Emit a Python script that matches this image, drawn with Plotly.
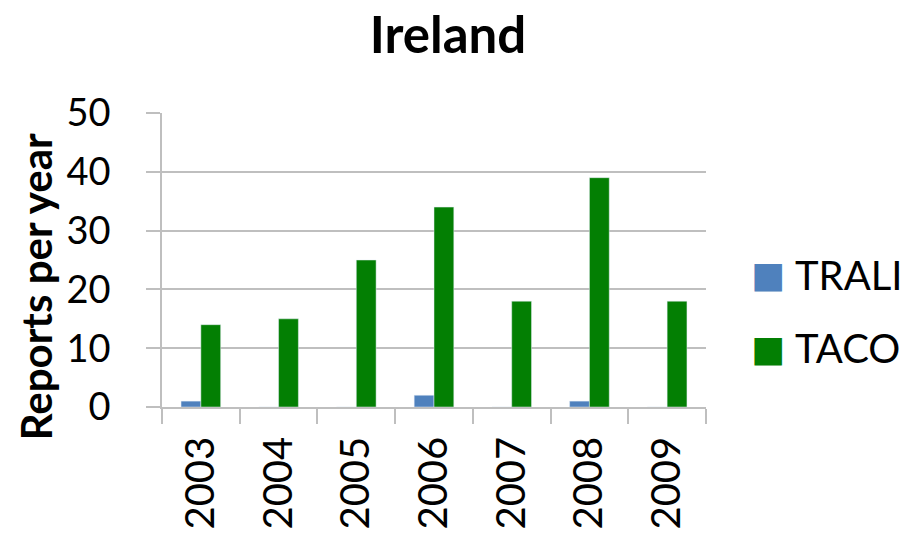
import plotly.graph_objects as go

years = ["2003", "2004", "2005", "2006", "2007", "2008", "2009"]
trali = [1, 0, 0, 2, 0, 1, 0]
taco = [14, 15, 25, 34, 18, 39, 18]
y_ticks = [0, 10, 20, 30, 40, 50]
series_names = ["TRALI", "TACO"]
series_colors = ["#4F81BD", "#037F03"]

FONT = "Lato, 'Open Sans', sans-serif"
GRID = "#bfbfbf"

fig = go.Figure()
for name, vals, col in zip(series_names, [trali, taco], series_colors):
    fig.add_trace(go.Bar(x=years, y=vals, name=name, marker_color=col, showlegend=False))

# legend drawn as text entries (large square swatch + label)
leg_y = [0.45, 0.20]
for name, col, yy in zip(series_names, series_colors, leg_y):
    fig.add_annotation(xref="paper", yref="paper", x=1.114, y=yy, xanchor="center", yanchor="middle",
                       text="■", showarrow=False, font=dict(size=36, color=col, family="DejaVu Sans"))
    fig.add_annotation(xref="paper", yref="paper", x=1.16, y=yy, xanchor="left", yanchor="middle",
                       text=name, showarrow=False, font=dict(size=40, color="#000", family=FONT))

# y-axis title
fig.add_annotation(xref="paper", yref="paper", x=-0.23, y=0.41, xanchor="center", yanchor="middle",
                   text="<b>Reports per year</b>", textangle=-90, showarrow=False,
                   font=dict(size=42, color="#000", family=FONT))

fig.update_layout(
    width=918, height=534,
    margin=dict(l=162, r=212, t=113, b=127),
    paper_bgcolor="white", plot_bgcolor="white",
    barmode="group", bargap=0.49, bargroupgap=0,
    font=dict(family=FONT, color="#000000"),
    title=dict(text="<b>Ireland</b>", x=0.488, xanchor="center", y=0.935, yanchor="middle",
               font=dict(size=51, family=FONT)),
    showlegend=False,
)
fig.update_xaxes(
    type="category", tickangle=-90, tickfont=dict(size=40, family=FONT),
    showline=True, linecolor=GRID, linewidth=1.5,
    ticks="outside", tickson="boundaries", ticklen=15, tickcolor=GRID, tickwidth=1.5,
    ticklabelstandoff=12, automargin=False,
    showgrid=False,
)
fig.update_yaxes(
    range=[0, 50], tickvals=y_ticks, tickfont=dict(size=38, family=FONT),
    showline=True, linecolor=GRID, linewidth=1.5,
    ticks="outside", ticklen=14, tickcolor=GRID, tickwidth=1.5,
    ticklabelstandoff=28, automargin=False,
    showgrid=True, gridcolor=GRID, gridwidth=1.5, zeroline=False,
)

fig.write_html("out.html")
